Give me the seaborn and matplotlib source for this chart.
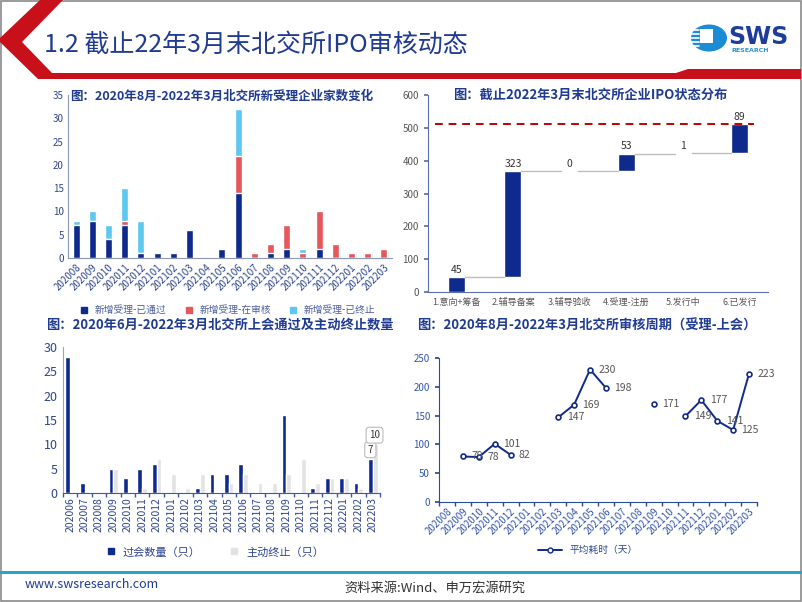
import numpy as np
import pandas as pd
import matplotlib
matplotlib.use('Agg')
import matplotlib.pyplot as plt
import seaborn as sns
from matplotlib.patches import Polygon, Circle, Rectangle
from matplotlib.lines import Line2D

# --- data ---
months_a = ['202008', '202009', '202010', '202011', '202012', '202101', '202102',
            '202103', '202104', '202105', '202106', '202107', '202108', '202109',
            '202110', '202111', '202112', '202201', '202202', '202203']
passed_a = [7, 8, 4, 7, 1, 1, 1, 6, 0, 2, 14, 0, 1, 2, 0, 2, 0, 0, 0, 0]
review_a = [0, 0, 0, 1, 0, 0, 0, 0, 0, 0, 8, 1, 2, 5, 1, 8, 3, 1, 1, 2]
ended_a = [1, 2, 3, 7, 7, 0, 0, 0, 0, 0, 10, 0, 0, 0, 1, 0, 0, 0, 0, 0]
labels_a = ['新增受理-已通过', '新增受理-在审核', '新增受理-已终止']

stages = ['1.意向+筹备', '2.辅导备案', '3.辅导验收', '4.受理-注册', '5.发行中', '6.已发行']
stage_counts = [45, 323, 0, 53, 1, 89]

months_b = ['202006', '202007'] + months_a
passed_b = [28, 2, 0, 5, 3, 5, 6, 0, 0, 1, 4, 4, 6, 0, 0, 16, 0, 1, 3, 3, 2, 7]
ended_b = [0, 0, 0, 5, 0, 1, 7, 4, 1, 4, 0, 2, 4, 2, 2, 4, 7, 2, 3, 3, 1, 10]
labels_b = ['过会数量（只）', '主动终止（只）']

months_c = months_a
avg_days = [np.nan, 79, 78, 101, 82, np.nan, np.nan, 147, 169, 230, 198, np.nan,
            np.nan, 171, np.nan, 149, 177, 141, 125, 223]
label_c = '平均耗时（天）'

NAVY = '#0E2A8C'
RED = '#E5575B'
SKY = '#5CC8F0'
GREY = '#E3E3E3'
TITLE = '#1F3A93'
TICK = '#2E4590'

W, H = 802, 602
sns.set_theme(style='white')
plt.rcParams['font.family'] = ['Noto Sans CJK SC', 'DejaVu Sans']

fig = plt.figure(figsize=(W / 100, H / 100), dpi=100)
fig.patch.set_facecolor('white')


def px(x, y):
    return (x / W, 1 - y / H)


def rect(l, t, r, b):
    return [l / W, 1 - b / H, (r - l) / W, (b - t) / H]


def style_axes(ax, color='#8C96B8'):
    for s in ['top', 'right']:
        ax.spines[s].set_visible(False)
    for s in ['left', 'bottom']:
        ax.spines[s].set_color(color)
        ax.spines[s].set_linewidth(0.8)
    ax.set_xlabel('')
    ax.set_ylabel('')


# --- header / frame ---
fig.add_artist(Rectangle((0.0015, 0.002), 0.997, 0.996, transform=fig.transFigure,
                         fill=False, edgecolor='#8A8A8A', linewidth=1.2))
band = [(40, 0), (63, 0), (22, 42), (52, 73), (676, 73), (688, 69), (801, 69),
        (801, 79), (38, 79), (0, 42), (0, 38)]
fig.add_artist(Polygon([px(x, y) for x, y in band], closed=True,
                       transform=fig.transFigure, facecolor='#C8101A', edgecolor='none'))
fig.text(*px(44, 45), '1.2 截止22年3月末北交所IPO审核动态', fontsize=18,
         color=TITLE, va='center', ha='left')

# logo
fig.add_artist(Circle(px(709, 38), 18 / W, transform=fig.transFigure,
                      facecolor='#1B8BD6', edgecolor='none'))
fig.add_artist(Rectangle(px(700, 43), 13 / W, 14 / H, transform=fig.transFigure,
                         facecolor='white', edgecolor='none'))
for yy in [30, 34, 38, 42, 46]:
    fig.add_artist(Line2D([690 / W, 699 / W], [1 - yy / H] * 2, transform=fig.transFigure,
                          color='white', lw=1.2))
fig.text(*px(728, 37), 'SWS', fontsize=17, fontweight='bold', color='#1E3C9A',
         va='center', ha='left', family='DejaVu Sans')
fig.text(*px(731, 51), 'RESEARCH', fontsize=4.5, fontweight='bold', color='#2A8FD8',
         va='center', ha='left', family='DejaVu Sans')

# footer
fig.add_artist(Line2D([0, 1], [1 - 572 / H] * 2, transform=fig.transFigure,
                      color='#2BA3C7', lw=2.2))
fig.text(*px(25, 585), 'www.swsresearch.com', fontsize=9, color=TITLE, va='center')
fig.text(*px(435, 588), '资料来源:Wind、申万宏源研究', fontsize=9.5, color='#333333',
         va='center', ha='center')

# --- chart 1: stacked new filings ---
ax1 = fig.add_axes(rect(68, 95, 392, 258))
tot_a = np.array(passed_a) + np.array(review_a) + np.array(ended_a)
mid_a = np.array(passed_a) + np.array(review_a)
sns.barplot(x=months_a, y=tot_a, color=SKY, saturation=1, width=0.42, ax=ax1)
sns.barplot(x=months_a, y=mid_a, color=RED, saturation=1, width=0.42, ax=ax1)
sns.barplot(x=months_a, y=passed_a, color=NAVY, saturation=1, width=0.42, ax=ax1)
ax1.set_ylim(0, 35)
ax1.set_yticks(range(0, 36, 5))
ax1.set_xlim(-0.5, len(months_a) - 0.5)
style_axes(ax1)
ax1.tick_params(axis='y', labelsize=7, colors=TICK, length=0, pad=3)
ax1.tick_params(axis='x', labelsize=7, colors=TICK, length=0, pad=3)
plt.setp(ax1.get_xticklabels(), rotation=45, ha='right', rotation_mode='anchor')
fig.text(*px(222, 96), '图：2020年8月-2022年3月北交所新受理企业家数变化', fontsize=9,
         fontweight='bold', color=TITLE, ha='center', va='center')
h1 = [Line2D([], [], marker='s', ls='', color=c, markersize=4) for c in [NAVY, RED, SKY]]
fig.legend(h1, labels_a, loc='center', bbox_to_anchor=px(225, 310), ncol=3, frameon=False,
           fontsize=7, handletextpad=0.1, columnspacing=1.3, labelcolor='#4A5C9C')

# --- chart 2: waterfall ---
ax2 = fig.add_axes(rect(428, 95, 768, 292))
cum = np.cumsum(stage_counts)
base = cum - np.array(stage_counts)
xs = np.arange(len(stages))
bw = 0.3
ax2.bar(xs, stage_counts, bottom=base, width=bw, color=NAVY)
for i in range(len(stages) - 1):
    ax2.plot([i + bw / 2, i + 1 - bw / 2], [cum[i], cum[i]], color='#BDBDBD', lw=1, zorder=1)
for i, v in enumerate(stage_counts):
    ax2.text(i, cum[i] + 8, str(v), ha='center', va='bottom', fontsize=7.5, color='#333333')
ax2.axhline(cum[-1], xmin=0.02, xmax=0.96, color='#C00000', ls='--', lw=1.4, dashes=(4, 3))
ax2.set_xlim(-0.5, len(stages) - 0.5)
ax2.set_ylim(0, 600)
ax2.set_yticks(range(0, 601, 100))
ax2.set_xticks(xs)
ax2.set_xticklabels(stages)
style_axes(ax2, '#5A6FB0')
ax2.set_xticks(np.arange(-0.5, len(stages), 1), minor=True)
ax2.tick_params(axis='x', which='minor', length=3, color='#5A6FB0', direction='out')
ax2.tick_params(axis='x', which='major', length=0, labelsize=6.5, colors='#555555', pad=4)
ax2.tick_params(axis='y', labelsize=7, colors='#555555', length=3, color='#5A6FB0',
                direction='out', left=True)
fig.text(*px(590, 95), '图：截止2022年3月末北交所企业IPO状态分布', fontsize=9.5,
         fontweight='bold', color=TITLE, ha='center', va='center')

# --- chart 3: grouped bars ---
ax3 = fig.add_axes(rect(63, 347, 380, 493))
df_b = pd.DataFrame({
    'month': months_b * 2,
    'value': passed_b + ended_b,
    'series': [labels_b[0]] * len(months_b) + [labels_b[1]] * len(months_b),
})
sns.barplot(data=df_b, x='month', y='value', hue='series', palette=[NAVY, GREY],
            saturation=1, width=0.66, ax=ax3, legend=False)
ax3.set_ylim(0, 30)
ax3.set_yticks(range(0, 31, 5))
ax3.set_xlim(-0.5, len(months_b) - 0.5)
style_axes(ax3, '#9AA3BF')
ax3.spines['bottom'].set_color('#3E58A8')
ax3.set_xticks(np.arange(-0.5, len(months_b), 1), minor=True)
ax3.tick_params(axis='x', which='minor', length=3, color='#3E58A8', direction='out', bottom=True)
ax3.tick_params(axis='y', labelsize=9, colors=TICK, length=0, pad=4)
ax3.tick_params(axis='x', which='major', labelsize=7.5, colors=TICK, length=0, pad=3)
plt.setp(ax3.get_xticklabels(), rotation=90)
last = len(months_b) - 1
box = dict(boxstyle='round,pad=0.3', fc='white', ec='#BBBBBB', lw=0.8)
ax3.annotate(str(passed_b[-1]), (last - 0.17, passed_b[-1]), xytext=(0, 3),
             textcoords='offset points', ha='center', va='bottom', fontsize=7,
             color='#333333', bbox=box)
ax3.annotate(str(ended_b[-1]), (last + 0.12, ended_b[-1]), xytext=(0, 3),
             textcoords='offset points', ha='center', va='bottom', fontsize=7,
             color='#333333', bbox=box)
fig.text(*px(220, 325), '图：2020年6月-2022年3月北交所上会通过及主动终止数量', fontsize=9.5,
         fontweight='bold', color=TITLE, ha='center', va='center')
h3 = [Line2D([], [], marker='s', ls='', color=c, markersize=5) for c in [NAVY, GREY]]
fig.legend(h3, labels_b, loc='center', bbox_to_anchor=px(212, 552), ncol=2, frameon=False,
           fontsize=8, handletextpad=0.1, columnspacing=2.0, labelcolor=TICK)

# --- chart 4: review duration line ---
ax4 = fig.add_axes(rect(439, 358, 757, 502))
xc = np.arange(len(months_c))
ax4.plot(xc, avg_days, color=NAVY, lw=1.4, marker='o', markersize=3.5,
         markerfacecolor='white', markeredgecolor=NAVY, markeredgewidth=1.2)
for i, v in enumerate(avg_days):
    if not np.isnan(v):
        ax4.annotate(f'{v:.0f}', (i, v), xytext=(6, 0), textcoords='offset points',
                     ha='left', va='center', fontsize=7.5, color='#555555')
ax4.set_xlim(-0.5, len(months_c) - 0.5)
ax4.set_ylim(0, 250)
ax4.set_yticks(range(0, 251, 50))
ax4.set_xticks(xc)
ax4.set_xticklabels(months_c)
style_axes(ax4, '#2B4A9C')
ax4.set_xticks(np.arange(-0.5, len(months_c), 1), minor=True)
ax4.tick_params(axis='x', which='minor', length=3, color='#2B4A9C', direction='out', bottom=True)
ax4.tick_params(axis='x', which='major', length=0, labelsize=7, colors='#3355AA', pad=3)
ax4.tick_params(axis='y', labelsize=7, colors='#3355AA', length=3, color='#2B4A9C',
                direction='out', left=True)
plt.setp(ax4.get_xticklabels(), rotation=45, ha='right', rotation_mode='anchor')
fig.text(*px(587, 326), '图：2020年8月-2022年3月北交所审核周期（受理-上会）', fontsize=9.5,
         fontweight='bold', color=TITLE, ha='center', va='center')
h4 = [Line2D([], [], color=NAVY, lw=1.4, marker='o', markersize=3.5,
             markerfacecolor='white', markeredgecolor=NAVY)]
fig.legend(h4, [label_c], loc='center', bbox_to_anchor=px(588, 550), frameon=False,
           fontsize=7, handlelength=2.5, labelcolor=TICK)

fig.savefig('out.png', dpi=100)
